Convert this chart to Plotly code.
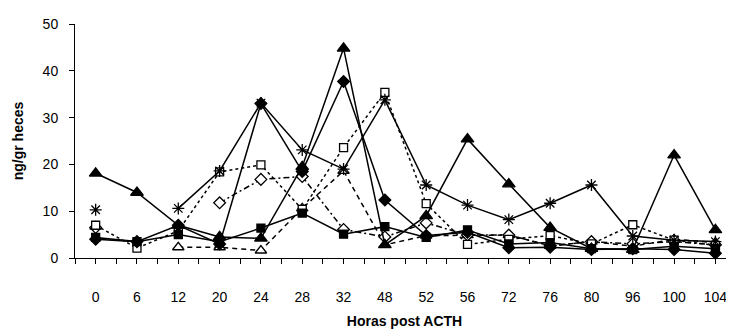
import plotly.graph_objects as go

cats = ["0", "6", "12", "20", "24", "28", "32", "48", "52", "56", "72", "76", "80", "96", "100", "104"]

filled_diamond = [4.0, 3.5, 7.0, 3.0, 33.0, 18.5, 37.7, 12.4, 4.8, 5.5, 2.2, 2.3, 1.8, 2.0, 1.8, 1.0]
filled_square = [4.4, 3.5, 5.0, 3.5, 6.4, 9.6, 5.1, 6.7, 4.4, 6.0, 3.0, 3.3, 2.0, 1.8, 2.5, 2.0]
filled_triangle = [18.1, 14.0, 7.0, 4.5, 4.2, 19.5, 44.8, 2.8, 9.0, 25.4, 15.8, 6.5, 2.0, 1.8, 22.0, 6.0]
asterisk = [10.3, None, 10.6, 18.6, 33.1, 23.1, 19.0, 33.8, 15.6, 11.3, 8.2, 11.7, 15.6, 4.7, 3.8, 3.5]
open_square = [7.0, 2.1, 5.8, 18.4, 19.9, 10.4, 23.6, 35.4, 11.6, 2.9, 4.0, 4.8, 3.0, 7.1, 3.8, 2.7]
open_diamond = [6.5, None, None, 11.8, 16.8, 17.4, 6.1, 4.5, 7.5, 4.9, 4.9, 2.6, 3.5, 3.0, 3.5, 2.8]
open_triangle = [6.7, None, 2.3, 2.3, 1.6, 10.6, 18.6, 2.8, 4.8, 4.9, 4.9, 2.6, 3.5, 2.5, 4.0, 3.3]

y_ticks = [0, 10, 20, 30, 40, 50]

xs = list(range(len(cats)))
FONT = "Liberation Sans, Arial, sans-serif"

series = [
    (open_triangle, "triangle-up", "white", 10, "5px,4px"),
    (open_diamond, "diamond", "white", 9, "6px,3px,2px,3px"),
    (open_square, "square", "white", 8, "dot"),
    (filled_square, "square", "black", 8, "solid"),
    (asterisk, "asterisk-open", "black", 10, "solid"),
    (filled_diamond, "diamond", "black", 9, "solid"),
    (filled_triangle, "triangle-up", "black", 11, "solid"),
]

fig = go.Figure()
for vals, sym, fill, size, dash in series:
    fig.add_trace(go.Scatter(
        x=xs, y=vals, mode="lines+markers", connectgaps=False,
        line=dict(color="black", width=1.5, dash=dash),
        marker=dict(symbol=sym, color=fill, size=size,
                    line=dict(color="black", width=1.3)),
        showlegend=False, cliponaxis=False,
    ))

fig.update_layout(
    width=726, height=323,
    margin=dict(l=67, r=0, t=16, b=73),
    paper_bgcolor="white", plot_bgcolor="white",
    font=dict(family=FONT, size=14, color="black"),
    xaxis=dict(
        range=[-0.5, 15.45], tickmode="array", tickvals=xs, ticktext=cats,
        ticks="outside", ticklen=5, tickcolor="black", tickwidth=1,
        showline=True, linecolor="black", linewidth=1, showgrid=False, zeroline=False,
        minor=dict(tickmode="array", tickvals=[i - 0.5 for i in xs] + [15.5],
                   ticks="outside", ticklen=5, tickcolor="black", tickwidth=1, showgrid=False),
        ticklabelstandoff=21, automargin=False,
        title=dict(text="<b>Horas post ACTH</b>", font=dict(size=14), standoff=12),
    ),
    yaxis=dict(
        range=[0, 50], tickmode="array", tickvals=y_ticks,
        ticks="outside", ticklen=5, tickcolor="black", tickwidth=1,
        showline=True, linecolor="black", linewidth=1, showgrid=False, zeroline=False,
        ticklabelstandoff=8, automargin=False,
        title=dict(text="<b>ng/gr heces</b>", font=dict(size=14), standoff=15),
    ),
)

fig.write_html("out.html")
